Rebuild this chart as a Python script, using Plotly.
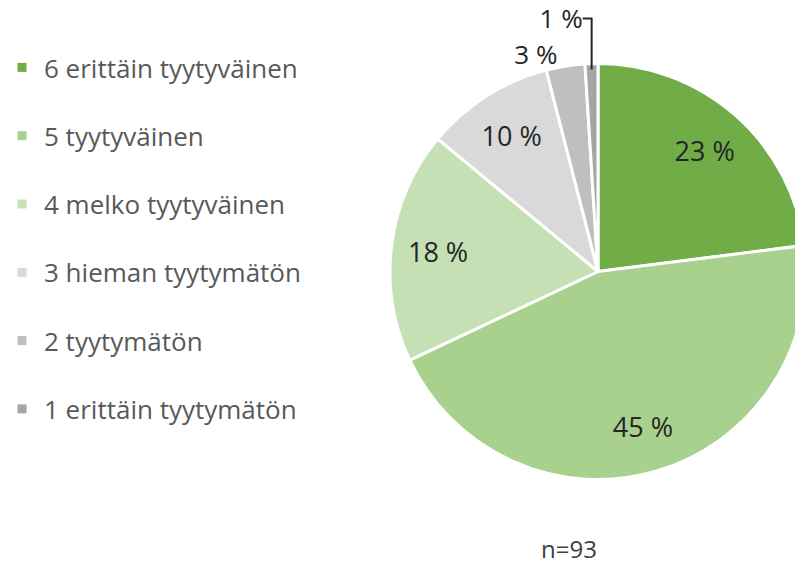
import plotly.graph_objects as go

labels = ["6 erittäin tyytyväinen", "5 tyytyväinen", "4 melko tyytyväinen",
          "3 hieman tyytymätön", "2 tyytymätön", "1 erittäin tyytymätön"]
values = [23, 45, 18, 10, 3, 1]
colors = ["#70AD47", "#A9D18E", "#C5E0B4", "#D9D9D9", "#BFBFBF", "#A6A6A6"]
inside_pos = ["inside", "inside", "inside", "inside", "none", "none"]
outside_pos = ["none", "none", "none", "none", "outside", "outside"]
note = "n=93"

W, H = 812, 564
FONT = "Open Sans"
dom = dict(x=[390 / W, 806 / W], y=[1 - 480 / H, 1 - 63 / H])
dom_out = dict(x=[396 / W, 800 / W], y=[1 - 474 / H, 1 - 69 / H])
pct_text = [f"{v} %" for v in values]
clear = ["rgba(0,0,0,0)"] * len(values)

fig = go.Figure()
# base pie: coloured slices
fig.add_trace(go.Pie(
    labels=labels, values=values, sort=False, direction="clockwise", rotation=0,
    marker=dict(colors=colors, line=dict(color="white", width=3)),
    textinfo="none", showlegend=False, hoverinfo="label+percent", domain=dom,
    automargin=False,
))
# transparent ring that positions the inside percentage labels
fig.add_trace(go.Pie(
    labels=labels, values=values, sort=False, direction="clockwise", rotation=0, hole=0.55,
    marker=dict(colors=clear, line=dict(width=0)),
    text=pct_text, textinfo="text", textposition=inside_pos,
    insidetextorientation="horizontal",
    textfont=dict(family=FONT, size=27, color="#262626"),
    showlegend=False, hoverinfo="skip", domain=dom, automargin=False,
))
# transparent pie for the small outside labels
fig.add_trace(go.Pie(
    labels=labels, values=values, sort=False, direction="clockwise", rotation=0,
    marker=dict(colors=clear, line=dict(width=0)),
    text=pct_text, textinfo="text", textposition=outside_pos,
    outsidetextfont=dict(family=FONT, size=26, color="#262626"),
    showlegend=False, hoverinfo="skip", domain=dom_out, automargin=False,
))

for i, (lab, col) in enumerate(zip(labels, colors)):
    fig.add_trace(go.Scatter(
        x=[None], y=[None], mode="markers", name=lab, legendgroup=f"g{i}",
        marker=dict(symbol="square", size=9, color=col), showlegend=True,
    ))

fig.update_layout(
    width=W, height=H, autosize=False,
    margin=dict(l=0, r=0, t=0, b=0, autoexpand=False),
    paper_bgcolor="white", plot_bgcolor="white",
    xaxis=dict(visible=False), yaxis=dict(visible=False),
    legend=dict(x=0, xanchor="left", y=1 - 44 / H, yanchor="top", itemwidth=34,
                font=dict(family=FONT, size=26, color="#595959"),
                tracegroupgap=31.5, traceorder="grouped", bgcolor="rgba(0,0,0,0)"),
    annotations=[dict(text=note, x=569 / W, y=1 - 548 / H, xref="paper", yref="paper",
                      xanchor="center", yanchor="middle",
                      showarrow=False, font=dict(family=FONT, size=24, color="#404040"))],
)

fig.write_html("out.html", config={"displayModeBar": False},
               post_script="document.body.style.margin='0';document.body.style.overflow='hidden';")
